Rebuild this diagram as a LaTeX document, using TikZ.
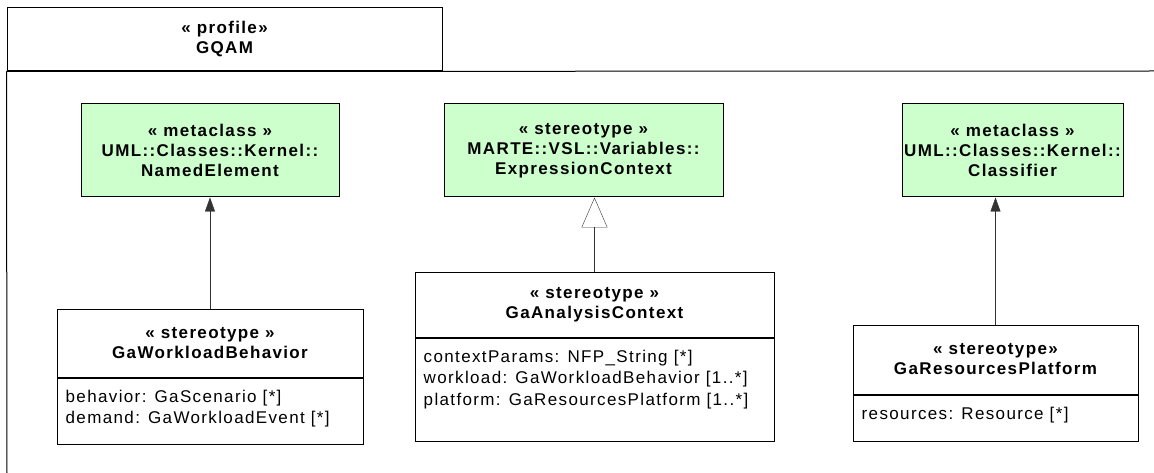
\documentclass[tikz,border=0pt]{standalone}
\usepackage{fontspec}
\setmainfont{Liberation Sans}
\newfontfamily\umlfont[LetterSpace=8]{Liberation Sans}
\usetikzlibrary{positioning,arrows.meta}

\definecolor{metagreen}{RGB}{204,255,204}

\tikzset{
  classhead/.style={draw, line width=1pt, fill=white, inner sep=0pt, align=center,
    font={\umlfont\bfseries\fontsize{17}{20}\selectfont}},
  metabox/.style={classhead, fill=metagreen},
  classbody/.style={draw, line width=1pt, inner sep=0pt},
  attrtext/.style={anchor=north west, align=left, inner xsep=9pt, inner ysep=12pt,
    font={\umlfont\fontsize{17}{21.5}\selectfont}},
  extends/.style={draw=black!80, -{Triangle[length=14pt,width=10pt]}},
  generalizes/.style={draw=black!80, -{Triangle[open,length=30pt,width=26pt]}}
}

\begin{document}
\begin{tikzpicture}[x=1pt,y=-1pt]
\useasboundingbox (0,0) rectangle (1154,473);

% --- profile frame ---
\node[classhead, minimum width=435, minimum height=63] (tab) at (224.5,39.5)
    {« profile»\\GQAM};
\coordinate (frameBL) at (7,473);
\coordinate (frameR) at (1154,71);
\draw[line width=1pt] (tab.south west) -- (frameBL);
\draw[line width=1pt] (tab.south west) -- (frameR);

% --- metaclasses / imported stereotype ---
\node[metabox, minimum width=258, minimum height=93] (ne) at (210,150.5)
    {« metaclass »\\UML::Classes::Kernel::\\NamedElement};
\node[metabox, minimum width=279, minimum height=93] (ec) at (583.5,150.5)
    {« stereotype »\\MARTE::VSL::Variables::\\ExpressionContext};
\node[metabox, minimum width=221, minimum height=93] (cl) at (1012.5,150.5)
    {« metaclass »\\UML::Classes::Kernel::\\Classifier};

% --- GaWorkloadBehavior ---
\node[classhead, minimum width=306, minimum height=68] (wlbHead) at (210,343)
    {« stereotype »\\GaWorkloadBehavior};
\node[classbody, minimum width=306, minimum height=66, below=0pt of wlbHead] (wlbBody) {};
\node[attrtext] (wlbAttr) at (wlbBody.north west)
    {behavior: GaScenario [*]\\demand: GaWorkloadEvent [*]};

% --- GaAnalysisContext ---
\node[classhead, minimum width=359, minimum height=65] (gacHead) at (594.5,304.5)
    {« stereotype »\\GaAnalysisContext};
\node[classbody, minimum width=359, minimum height=103, below=0pt of gacHead] (gacBody) {};
\node[attrtext] (gacAttr) at (gacBody.north west)
    {contextParams: NFP\_String [*]\\workload: GaWorkloadBehavior [1..*]\\platform: GaResourcesPlatform [1..*]};

% --- GaResourcesPlatform ---
\node[classhead, minimum width=285, minimum height=69] (grpHead) at (995.5,359.5)
    {« stereotype»\\GaResourcesPlatform};
\node[classbody, minimum width=285, minimum height=46, below=0pt of grpHead] (grpBody) {};
\node[attrtext] (grpAttr) at (grpBody.north west) {resources: Resource [*]};

% --- extensions and generalization ---
\draw[extends] (wlbHead.north) -- (wlbHead.north |- ne.south);
\draw[generalizes] (gacHead.north) -- (gacHead.north |- ec.south);
\draw[extends] (grpHead.north) -- (grpHead.north |- cl.south);
\end{tikzpicture}
\end{document}
